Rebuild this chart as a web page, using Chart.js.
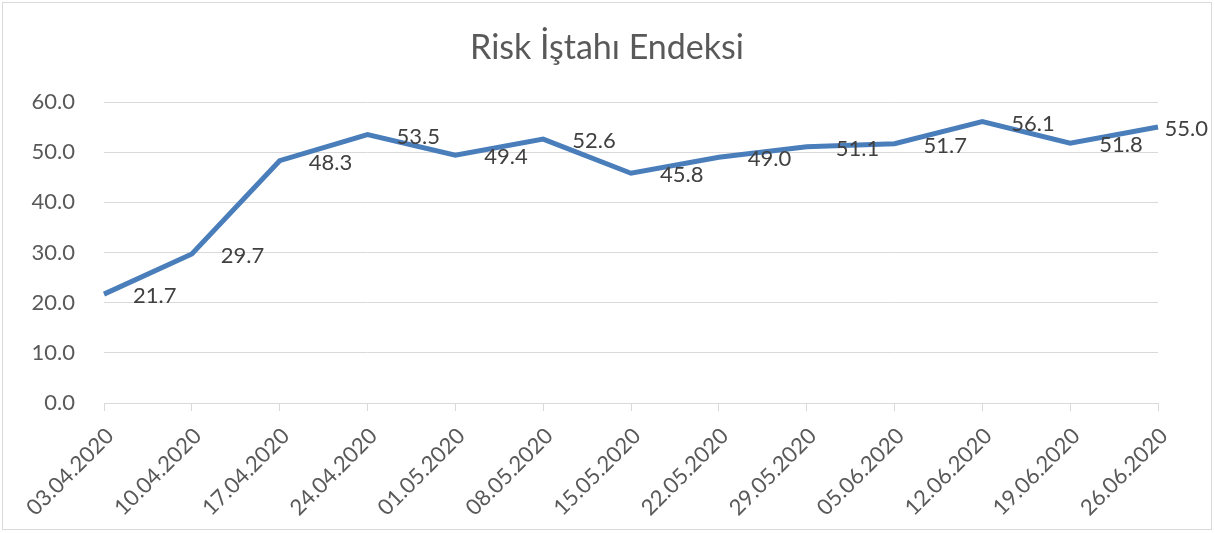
<!DOCTYPE html>
<html>
<head>
<meta charset="utf-8">
<script src="https://cdn.jsdelivr.net/npm/chart.js@4"></script>
<style>
  html, body { margin: 0; padding: 0; background: #fff; }
  #wrap {
    position: absolute; left: 2px; top: 2px;
    width: 1210px; height: 528px;
    border: 1px solid #d9d9d9; box-sizing: border-box;
  }
</style>
</head>
<body>
<div id="wrap"><canvas id="riskChart"></canvas></div>
<script>
// Haftalık tarihler ve endeks değerleri
const chartTitle = "Risk İştahı Endeksi";
const dates = [
  "03.04.2020", "10.04.2020", "17.04.2020", "24.04.2020", "01.05.2020",
  "08.05.2020", "15.05.2020", "22.05.2020", "29.05.2020", "05.06.2020",
  "12.06.2020", "19.06.2020", "26.06.2020"
];
const indexValues = [21.7, 29.7, 48.3, 53.5, 49.4, 52.6, 45.8, 49.0, 51.1, 51.7, 56.1, 51.8, 55.0];
const yTicks = [0, 10, 20, 30, 40, 50, 60];

const fontFamily = "Lato, 'Open Sans', sans-serif";

// Title centred on the whole canvas (not just the padded layout box)
const centeredTitle = {
  id: "centeredTitle",
  afterDraw(chart) {
    const ctx = chart.ctx;
    ctx.save();
    ctx.font = "34px " + fontFamily;
    ctx.fillStyle = "#595959";
    ctx.textAlign = "center";
    ctx.textBaseline = "middle";
    ctx.fillText(chartTitle, chart.width / 2, 45);
    ctx.restore();
  },
};

// Value labels to the right of each point, kept inside the canvas
const valueLabels = {
  id: "valueLabels",
  afterDatasetsDraw(chart) {
    const ctx = chart.ctx;
    const meta = chart.getDatasetMeta(0);
    ctx.save();
    ctx.font = "22px " + fontFamily;
    ctx.fillStyle = "#404040";
    ctx.textAlign = "left";
    ctx.textBaseline = "middle";
    meta.data.forEach((pt, i) => {
      const text = indexValues[i].toFixed(1);
      const w = ctx.measureText(text).width;
      let x = pt.x + 29;
      if (x + w > chart.width - 3) x = chart.width - 3 - w;
      ctx.fillText(text, x, pt.y + 2);
    });
    ctx.restore();
  },
};

document.addEventListener("DOMContentLoaded", () => {
  const canvas = document.getElementById("riskChart");
  new Chart(canvas, {
    type: "line",
    data: {
      labels: dates,
      datasets: [
        {
          data: indexValues,
          borderColor: "#4a7ebb",
          borderWidth: 5,
          pointRadius: 0,
          tension: 0,
          fill: false,
        },
      ],
    },
    options: {
      responsive: true,
      maintainAspectRatio: false,
      animation: false,
      layout: { padding: { left: 0, right: 53, top: 99, bottom: 0 } },
      plugins: {
        legend: { display: false },
        tooltip: { enabled: false },
        title: { display: false },
      },
      scales: {
        x: {
          offset: false,
          afterFit: (axis) => {
            axis.height = 126;
          },
          grid: {
            display: true,
            drawOnChartArea: false,
            drawTicks: true,
            tickLength: 8,
            color: "#d9d9d9",
          },
          border: { display: true, color: "#d9d9d9", width: 1 },
          ticks: {
            color: "#595959",
            font: { family: fontFamily, size: 22 },
            maxRotation: 45,
            minRotation: 45,
            autoSkip: false,
            padding: 12,
            labelOffset: 6,
          },
        },
        y: {
          min: 0,
          max: 60,
          afterBuildTicks: (axis) => {
            axis.ticks = yTicks.map((v) => ({ value: v }));
          },
          afterFit: (axis) => {
            axis.width = 101;
          },
          grid: { color: "#d9d9d9", lineWidth: 1, drawTicks: false },
          border: { display: false },
          ticks: {
            color: "#595959",
            font: { family: fontFamily, size: 22 },
            padding: 29,
            callback: (v) => Number(v).toFixed(1),
          },
        },
      },
    },
    plugins: [valueLabels, centeredTitle],
  });
});
</script>
</body>
</html>
